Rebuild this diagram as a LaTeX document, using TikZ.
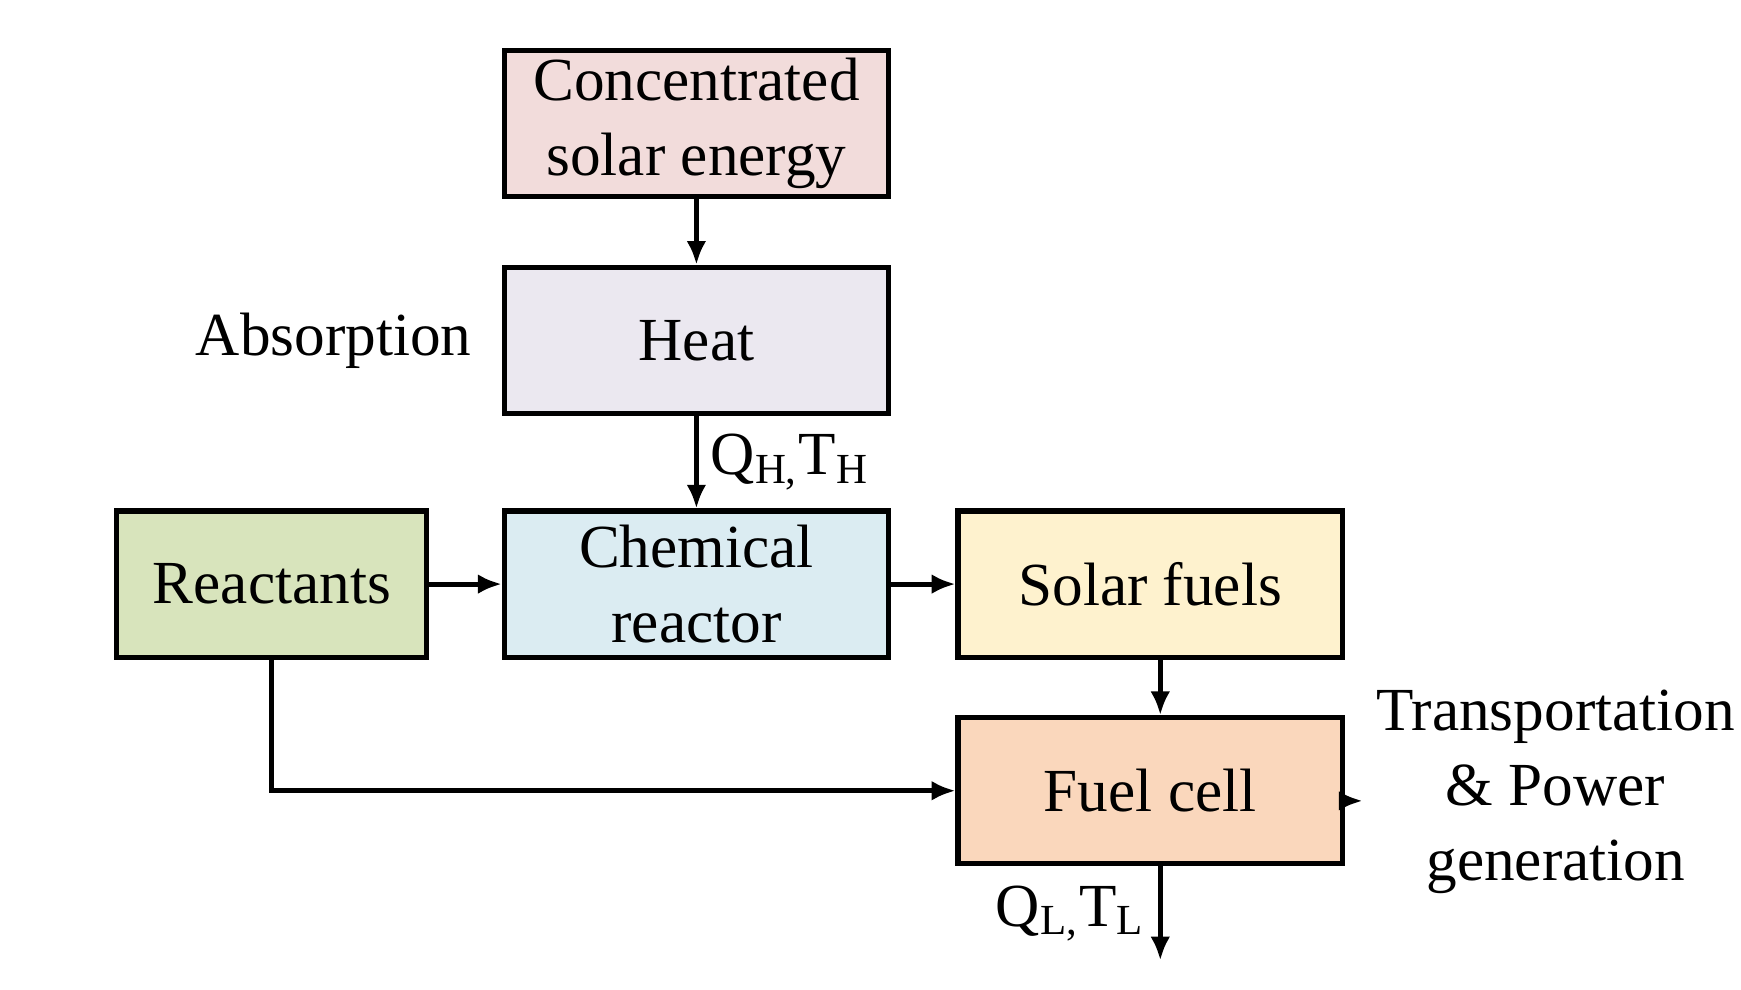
\documentclass[tikz,border=0pt]{standalone}
\usepackage{fontspec}
\setmainfont{Liberation Serif}
\usetikzlibrary{arrows.meta}
\begin{document}
\begin{tikzpicture}[x=0.01cm,y=-0.01cm,
  box/.style={draw,line width=1.3pt,minimum width=3.42cm,minimum height=1.3cm,inner sep=0pt,align=center,font=\fontsize{15.5}{19}\selectfont},
  txt/.style={align=center,font=\fontsize{15.5}{19}\selectfont},
  arr/.style={line width=1.3pt,-{Latex[length=6pt,width=5pt]}}]
\useasboundingbox (0,0) rectangle (1550,881);
\node[box,fill={rgb,255:red,242;green,220;blue,219}] (cse) at (620,110) {Concentrated\\solar energy};
\node[box,fill={rgb,255:red,235;green,232;blue,240}] (heat) at (620,303) {Heat};
\node[box,fill={rgb,255:red,219;green,236;blue,242}] (chem) at (620,520) {Chemical\\reactor};
\node[box,minimum width=2.76cm,fill={rgb,255:red,216;green,228;blue,188}] (reac) at (242,520) {Reactants};
\node[box,fill={rgb,255:red,254;green,242;blue,206}] (sf) at (1024,520) {Solar fuels};
\node[box,fill={rgb,255:red,250;green,215;blue,188}] (fc) at (1024,704) {Fuel cell};
\node[txt] (abs) at (297,303) {Absorption};
\node[txt] (tp) at (1385,705) {Transportation\\\&~Power\\generation};
\coordinate (out) at (1033,855);
\coordinate (fcin) at (fc.west);
\draw[arr] (cse) -- (heat);
\draw[arr] (heat) -- node[right,txt,inner sep=3pt] {Q\textsubscript{H,}T\textsubscript{H}} (chem);
\draw[arr] (reac) -- (chem);
\draw[arr] (chem) -- (sf);
\draw[arr] (sf.south -| out) -- (fc.north -| out);
\draw[arr] (reac.south) |- (fc.west);
\draw[arr] (fc.east |- 0,713) -- (tp.west |- 0,713);
\draw[arr] (fc.south -| out) -- node[left,txt,pos=0.5] {Q\textsubscript{L,}T\textsubscript{L}} (out);
\end{tikzpicture}
\end{document}
